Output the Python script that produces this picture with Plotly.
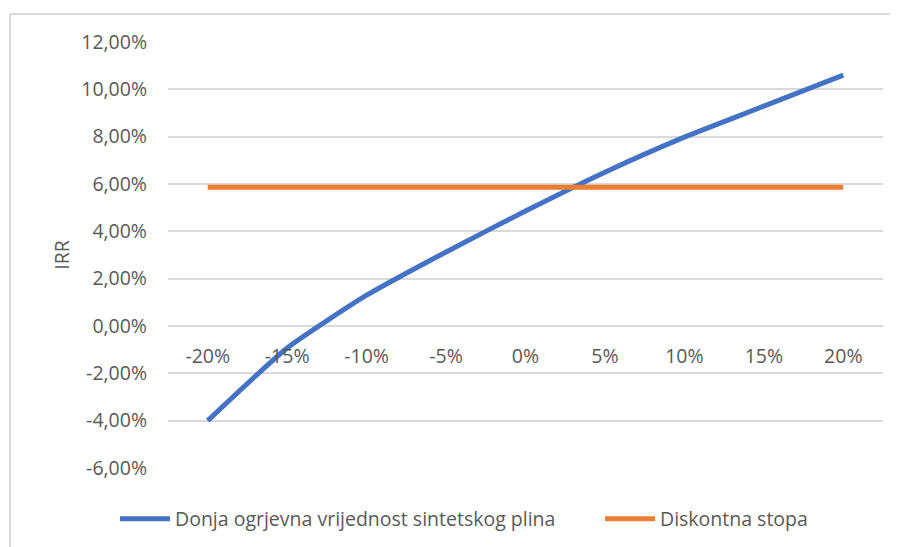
import plotly.graph_objects as go

categories = ["-20%", "-15%", "-10%", "-5%", "0%", "5%", "10%", "15%", "20%"]
irr_values = [-4.0, -0.93, 1.3, 3.13, 4.86, 6.5, 7.98, 9.29, 10.6]
discount_rate = [5.86] * len(categories)
y_ticks = [-6, -4, -2, 0, 2, 4, 6, 8, 10, 12]
y_tick_labels = ["-6,00%", "-4,00%", "-2,00%", "0,00%", "2,00%", "4,00%",
                 "6,00%", "8,00%", "10,00%", "12,00%"]

FONT = "Open Sans"
TXT = "#595959"
GRID = "#d9d9d9"
FS = 19.5

fig = go.Figure()
fig.add_trace(go.Scatter(
    x=categories, y=irr_values, mode="lines",
    name="Donja ogrjevna vrijednost sintetskog plina",
    line=dict(color="#4472C4", width=5, shape="spline", smoothing=0.5),
    legend="legend",
))
fig.add_trace(go.Scatter(
    x=categories, y=discount_rate, mode="lines",
    name="Diskontna stopa",
    line=dict(color="#ED7D31", width=5),
    legend="legend2",
))

# page body has an 8px offset, so figure is 890x539 placed at (8,8)
W, H = 890, 539
ml, mr, mt, mb = 160, 15, 34, 79
pw = W - ml - mr
ph = H - mt - mb

def px_to_paper_x(px):
    return (px - ml) / pw

def px_to_paper_y(py):
    return (H - mb - py) / ph

legend_common = dict(orientation="h", xref="container", yref="container",
                     xanchor="left", y=0.052, yanchor="middle",
                     font=dict(family=FONT, size=FS, color=TXT),
                     itemwidth=50, bgcolor="rgba(0,0,0,0)")

fig.update_layout(
    width=W, height=H,
    margin=dict(l=ml, r=mr, t=mt, b=mb, autoexpand=False),
    paper_bgcolor="white", plot_bgcolor="white",
    font=dict(family=FONT, size=FS, color=TXT),
    showlegend=True,
    legend=dict(x=107 / W, **legend_common),
    legend2=dict(x=592 / W, **legend_common),
    xaxis=dict(type="category", anchor="free", position=6/18,
               showgrid=False, showline=False, zeroline=False,
               ticks="", ticklabelstandoff=16,
               tickfont=dict(family=FONT, size=FS, color=TXT),
               range=[-0.5, 8.5]),
    yaxis=dict(range=[-6, 12], tickvals=y_ticks, ticktext=y_tick_labels,
               showgrid=True, gridcolor=GRID, gridwidth=1.5,
               zeroline=False, showline=False, ticks="",
               ticklabelstandoff=20,
               tickfont=dict(family=FONT, size=FS, color=TXT),
               title=dict(text="IRR", standoff=6,
                          font=dict(family=FONT, size=FS, color=TXT))),
    shapes=[
        dict(type="line", xref="paper", yref="paper",
             x0=px_to_paper_x(2), x1=px_to_paper_x(W + 10),
             y0=px_to_paper_y(6), y1=px_to_paper_y(6),
             line=dict(color=GRID, width=2)),
        dict(type="line", xref="paper", yref="paper",
             x0=px_to_paper_x(2), x1=px_to_paper_x(2),
             y0=px_to_paper_y(6), y1=px_to_paper_y(H + 10),
             line=dict(color=GRID, width=2)),
    ],
)

fig.write_html("out.html")
